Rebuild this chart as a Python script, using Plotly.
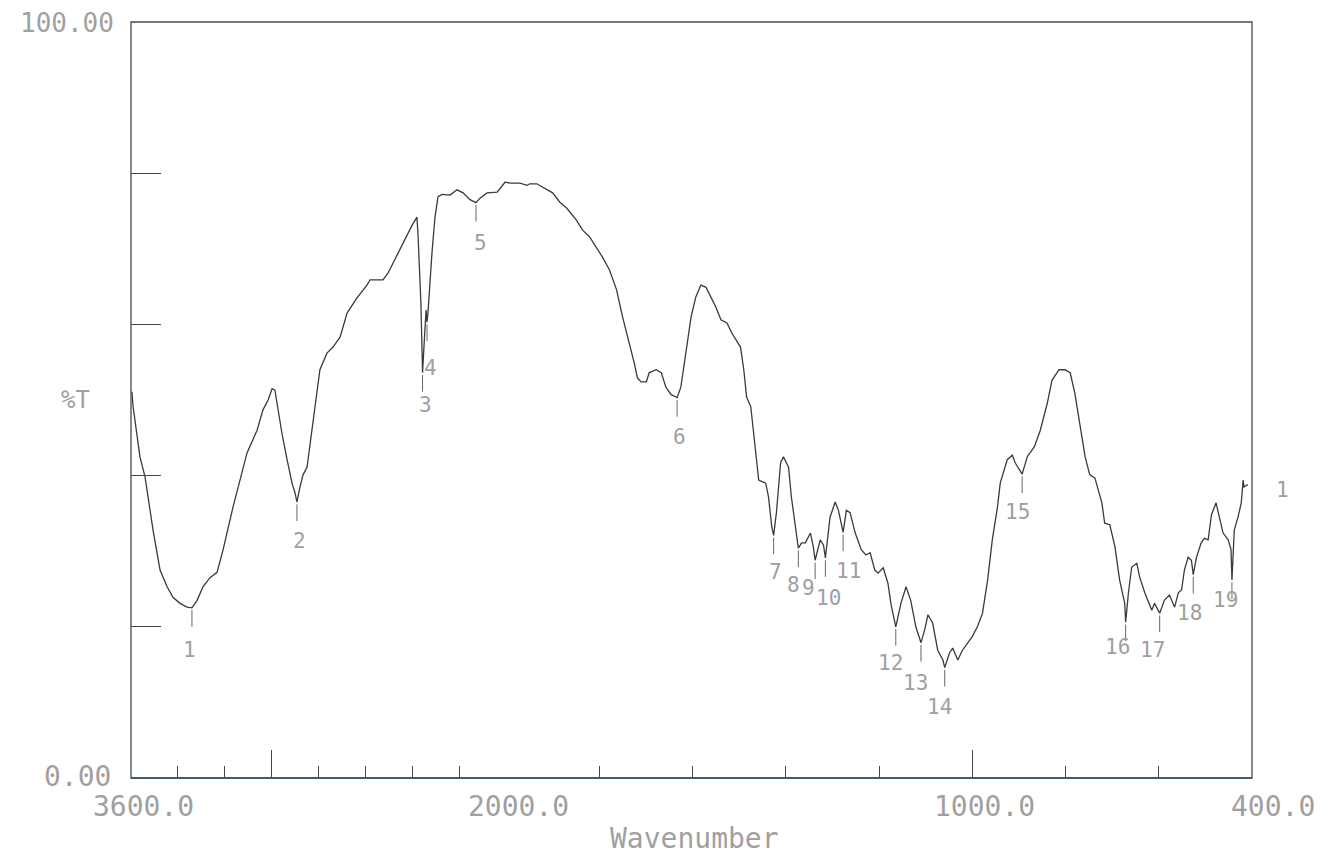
import plotly.graph_objects as go

# ---------------- data ----------------
wavenumber = [
    3596, 3591, 3562, 3540, 3506, 3476, 3446, 3421, 3391, 3361,
    3340, 3318, 3293, 3263, 3233, 3207, 3165, 3126, 3105, 3062,
    3037, 3015, 2998, 2986, 2973, 2956, 2934, 2913, 2900, 2892,
    2879, 2866, 2849, 2828, 2806, 2794, 2764, 2738, 2708, 2678,
    2636, 2593, 2580, 2525, 2503, 2465, 2431, 2401, 2380, 2375,
    2363, 2356, 2346, 2341, 2337, 2333, 2316, 2303, 2290, 2273,
    2239, 2209, 2183, 2154, 2128, 2111, 2081, 2038, 2004, 2000,
    1991, 1977, 1970, 1955, 1949, 1934, 1923, 1913, 1900, 1885,
    1870, 1849, 1836, 1821, 1806, 1793, 1778, 1763, 1750, 1735,
    1725, 1718, 1710, 1699, 1693, 1678, 1667, 1657, 1646, 1635,
    1633, 1625, 1614, 1603, 1593, 1582, 1571, 1561, 1550, 1539,
    1526, 1516, 1505, 1497, 1490, 1484, 1475, 1469, 1458, 1443,
    1437, 1430, 1426, 1420, 1411, 1405, 1394, 1388, 1379, 1373,
    1366, 1358, 1347, 1341, 1337, 1326, 1319, 1315, 1305, 1294,
    1287, 1277, 1270, 1262, 1251, 1238, 1228, 1219, 1209, 1202,
    1191, 1181, 1174, 1164, 1153, 1142, 1132, 1121, 1110, 1102,
    1095, 1085, 1074, 1063, 1059, 1049, 1042, 1031, 1021, 1010,
    1000, 989, 978, 967, 957, 946, 940, 925, 914, 908,
    899, 893, 882, 867, 854, 839, 829, 814, 801, 790,
    780, 769, 758, 748, 737, 722, 716, 705, 694, 684,
    673, 671, 665, 658, 647, 641, 630, 615, 609, 598,
    588, 577, 566, 558, 551, 545, 537, 530, 526, 519,
    509, 502, 494, 487, 477, 470, 462, 451, 445, 443,
    438, 430, 423, 419, 417, 409,
]
transmittance = [
    51.1, 49.1, 42.5, 39.8, 32.8, 27.5, 25.3, 23.9, 23.1, 22.6,
    22.5, 23.5, 25.3, 26.5, 27.2, 30.2, 35.8, 40.3, 43.0, 46.0,
    48.7, 50.0, 51.5, 51.3, 48.7, 45.6, 42.1, 39.0, 37.7, 36.5,
    38.5, 40.1, 41.1, 46.0, 51.3, 54.0, 56.2, 57.0, 58.3, 61.5,
    63.5, 65.2, 65.9, 65.9, 66.8, 69.2, 71.2, 73.1, 74.2, 71.6,
    62.8, 53.6, 59.3, 61.9, 60.3, 61.5, 69.4, 74.2, 76.9, 77.2,
    77.1, 77.8, 77.4, 76.5, 76.1, 76.7, 77.4, 77.5, 78.8, 78.8,
    78.7, 78.7, 78.7, 78.4, 78.6, 78.6, 78.2, 77.8, 77.4, 76.2,
    75.4, 73.8, 72.5, 71.6, 70.2, 68.9, 67.2, 64.6, 61.0, 57.5,
    54.9, 52.9, 52.4, 52.4, 53.6, 54.0, 53.6, 51.7, 50.7, 50.4,
    50.3, 51.7, 56.2, 61.0, 63.6, 65.2, 64.9, 63.6, 62.3, 60.6,
    60.2, 58.9, 57.9, 57.0, 54.0, 50.4, 49.1, 45.4, 39.4, 39.0,
    37.2, 33.2, 32.1, 35.1, 41.7, 42.5, 41.1, 37.2, 32.8, 30.4,
    31.1, 31.1, 32.4, 30.6, 28.8, 31.5, 30.8, 29.1, 34.5, 36.5,
    35.4, 32.5, 35.4, 35.1, 32.4, 30.2, 29.5, 29.8, 27.5, 27.1,
    27.8, 25.8, 22.9, 20.0, 23.1, 25.3, 23.5, 20.0, 17.9, 19.6,
    21.6, 20.5, 16.9, 15.6, 14.6, 16.5, 17.2, 15.6, 16.9, 17.9,
    18.7, 20.0, 21.8, 26.2, 31.5, 35.8, 39.0, 42.1, 42.7, 41.7,
    40.7, 40.2, 42.5, 43.8, 46.0, 49.6, 52.6, 54.0, 54.0, 53.6,
    50.9, 46.4, 42.5, 40.1, 39.7, 36.4, 33.7, 33.5, 30.6, 26.2,
    23.1, 20.6, 24.5, 27.9, 28.4, 26.6, 24.5, 22.2, 23.1, 21.8,
    23.5, 24.2, 22.6, 24.5, 24.9, 27.5, 29.2, 28.8, 26.9, 29.2,
    31.1, 31.7, 31.5, 34.8, 36.4, 34.5, 32.4, 31.5, 30.2, 26.2,
    32.8, 34.5, 36.4, 39.4, 38.5, 38.8,
]

peak_labels = ["1", "2", "3", "4", "5", "6", "7", "8", "9", "10",
               "11", "12", "13", "14", "15", "16", "17", "18", "19"]
peak_wn = [3340, 2892, 2356, 2337, 2128, 1633, 1426, 1373, 1337, 1315,
           1277, 1164, 1110, 1059, 893, 671, 598, 526, 443]
peak_t = [22.5, 36.5, 53.6, 60.3, 76.1, 50.3, 32.1, 30.4, 28.8, 29.1,
          32.5, 20.0, 17.9, 14.6, 40.2, 20.6, 21.8, 26.9, 26.2]

x_major_left = [3000]
x_minor_left = [3400, 3200, 2800, 2600, 2400, 2200]
x_major_right = [2000, 1000]
x_minor_right = [1800, 1600, 1400, 1200, 800, 600]
y_ticks = [20, 40, 60, 80]
x_tick_labels = [(3600, "3600.0"), (2000, "2000.0"), (1000, "1000.0"), (400, "400.0")]

# ---------------- styling ----------------
LINE = "#3a3a3a"
TXT = "#a0a0a0"
FONT = "DejaVu Sans Mono"
# pixel offsets of each peak label (dx, dy) relative to its peak
label_offsets = [(-2, 42), (3, 39), (3, 32), (3, 46), (4, 40), (2, 39), (2, 37),
                 (-5, 37), (-7, 28), (3, 40), (5, 39), (-5, 36), (-5, 40),
                 (-5, 39), (-5, 38), (-8, 25), (-7, 37), (-4, 38), (-6, 20)]

fig = go.Figure()

lx = [w for w in wavenumber if w >= 2000]
ly = [t for w, t in zip(wavenumber, transmittance) if w >= 2000]
rx = [w for w in wavenumber if w <= 2000]
ry = [t for w, t in zip(wavenumber, transmittance) if w <= 2000]

fig.add_trace(go.Scatter(x=lx, y=ly, xaxis="x", yaxis="y", mode="lines",
                         line=dict(color=LINE, width=1.3), showlegend=False,
                         hoverinfo="skip"))
fig.add_trace(go.Scatter(x=rx, y=ry, xaxis="x2", yaxis="y", mode="lines",
                         line=dict(color=LINE, width=1.3), showlegend=False,
                         hoverinfo="skip"))

# peak marker ticks
mlx, mly, mrx, mry = [], [], [], []
for w, t in zip(peak_wn, peak_t):
    if w > 2000:
        mlx += [w, w, None]
        mly += [t - 0.3, t - 2.5, None]
    else:
        mrx += [w, w, None]
        mry += [t - 0.3, t - 2.5, None]
fig.add_trace(go.Scatter(x=mlx, y=mly, xaxis="x", yaxis="y", mode="lines",
                         line=dict(color="#666", width=1), showlegend=False,
                         hoverinfo="skip"))
fig.add_trace(go.Scatter(x=mrx, y=mry, xaxis="x2", yaxis="y", mode="lines",
                         line=dict(color="#666", width=1), showlegend=False,
                         hoverinfo="skip"))

annotations = []
for lab, w, t, (dx, dy) in zip(peak_labels, peak_wn, peak_t, label_offsets):
    annotations.append(dict(
        x=w, y=t, xref="x" if w > 2000 else "x2", yref="y", text=lab,
        showarrow=False, xanchor="center", yanchor="middle",
        xshift=dx, yshift=-dy, font=dict(family=FONT, size=21, color=TXT)))

# extra label at right outside the frame
annotations.append(dict(x=400, y=38.1, xref="x2", yref="y", text="1",
                        showarrow=False, xanchor="center", yanchor="middle",
                        xshift=30, font=dict(family=FONT, size=21, color=TXT)))

for v, s in x_tick_labels:
    annotations.append(dict(
        x=v, y=0, xref="x" if v > 2000 else "x2", yref="paper", text=s,
        showarrow=False, xanchor="center", yanchor="middle",
        xshift=12 if v != 400 else 21, yshift=-28,
        font=dict(family=FONT, size=28, color=TXT)))

annotations.append(dict(x=0.503, y=0, xref="paper", yref="paper", text="Wavenumber",
                        showarrow=False, xanchor="center", yanchor="middle",
                        yshift=-60, font=dict(family=FONT, size=28, color=TXT)))
annotations.append(dict(x=0, y=100, xref="paper", yref="y", text="100.00",
                        showarrow=False, xanchor="right", yanchor="middle",
                        xshift=-15, yshift=-1, font=dict(family=FONT, size=26, color=TXT)))
annotations.append(dict(x=0, y=0, xref="paper", yref="y", text="0.00",
                        showarrow=False, xanchor="right", yanchor="middle",
                        xshift=-18, yshift=2, font=dict(family=FONT, size=28, color=TXT)))
annotations.append(dict(x=0, y=50, xref="paper", yref="y", text="%T",
                        showarrow=False, xanchor="right", yanchor="middle",
                        xshift=-39, font=dict(family=FONT, size=24, color=TXT)))

split = 375 / 1121

axis_common = dict(showgrid=False, zeroline=False, showline=False,
                   showticklabels=False, ticks="inside", ticklen=28,
                   tickwidth=1.2, tickcolor="#444", anchor="y")

fig.update_layout(
    width=1332, height=855,
    margin=dict(l=123, r=88, t=14, b=85),
    paper_bgcolor="white", plot_bgcolor="white",
    xaxis=dict(domain=[0, split], range=[3600, 2000], tickmode="array",
               tickvals=x_major_left,
               minor=dict(ticks="inside", ticklen=12, tickwidth=1.2,
                          tickcolor="#444", tickvals=x_minor_left),
               **axis_common),
    xaxis2=dict(domain=[split, 1], range=[2000, 400], tickmode="array",
                tickvals=x_major_right,
                minor=dict(ticks="inside", ticklen=12, tickwidth=1.2,
                           tickcolor="#444", tickvals=x_minor_right),
                **axis_common),
    yaxis=dict(domain=[0, 1], range=[0, 100], tickmode="array", tickvals=y_ticks,
               ticks="inside", ticklen=30, tickwidth=1.2, tickcolor="#444",
               showticklabels=False, showgrid=False, zeroline=False,
               showline=False, anchor="x"),
    shapes=[
        dict(type="rect", xref="paper", yref="paper", x0=0, x1=1, y0=0, y1=1,
             line=dict(color="#4a4a4a", width=1.3), layer="above"),
        dict(type="line", xref="paper", yref="paper", x0=0, x1=1, y0=0, y1=0,
             line=dict(color="#2f5670", width=1.6), layer="above"),
    ],
    annotations=annotations,
    showlegend=False,
)

fig.write_html("out.html")
